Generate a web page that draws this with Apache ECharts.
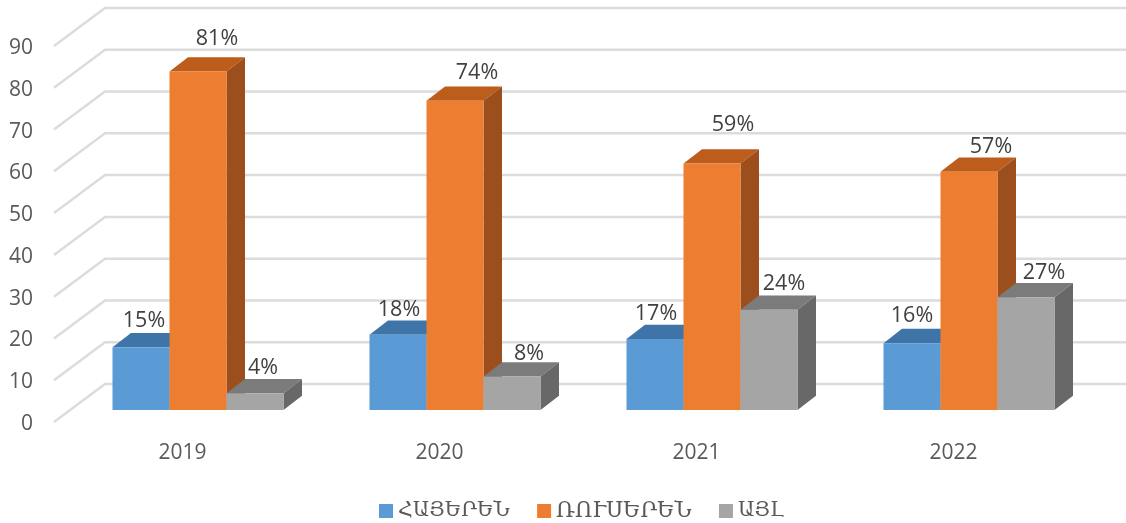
<!DOCTYPE html>
<html><head><meta charset="utf-8">
<style>html,body{margin:0;padding:0;background:#fff}#c{width:1126px;height:523px}</style>
<script src="https://cdn.jsdelivr.net/npm/echarts@6/dist/echarts.min.js"></script>
</head><body><div id="c"></div>
<script>
const categories = ['2019','2020','2021','2022'];
const seriesNames = ['ՀԱՅԵՐԵՆ','ՌՈՒՍԵՐԵՆ','ԱՅԼ'];
const armenianValues = [15,18,17,16];
const russianValues = [81,74,59,57];
const otherValues = [4,8,24,27];
const yTicks = [0,10,20,30,40,50,60,70,80,90];

const armenianNudge = [[3,-26],[1,-25],[1,-25],[0,-27]];
const russianNudge = [[19,-33],[22,-28],[21,-39],[22,-25]];
const otherNudge = [[8,-25],[17,-23],[15,-26],[18,-24]];

const font = '"Open Sans"';
const BACK = {dx:51, dy:-38};
const BAR_SHIFT = {dx:15.5, dy:-12};
const BAR_DEPTH = {dx:18.5, dy:-14.3};
const BAR_W = 57;

function barSeries(name, idx, values, nudge, c){
  return {
    name, type:'custom', clip:false, z:3,
    itemStyle:{color:c.front},
    data: values.map((v,i)=>[i,v]),
    encode:{x:0,y:1},
    renderItem(params, api){
      const i = api.value(0), v = api.value(1);
      const top = api.coord([i,v]), base = api.coord([i,0]);
      const x0 = top[0] + BAR_SHIFT.dx + (idx-1.5)*BAR_W, x1 = x0 + BAR_W;
      const yT = top[1] + BAR_SHIFT.dy, yB = base[1] + BAR_SHIFT.dy;
      const dx = BAR_DEPTH.dx, dy = BAR_DEPTH.dy;
      return {type:'group', children:[
        {type:'polygon', shape:{points:[[x0,yT],[x0+dx,yT+dy],[x1+dx,yT+dy],[x1,yT]]}, style:{fill:c.top}},
        {type:'polygon', shape:{points:[[x1,yT],[x1+dx,yT+dy],[x1+dx,yB+dy],[x1,yB]]}, style:{fill:c.side}},
        {type:'rect', shape:{x:x0,y:yT,width:BAR_W,height:yB-yT}, style:{fill:c.front}},
        {type:'text', z2:100, style:{text:v+'%', x:(x0+x1)/2+nudge[i][0], y:yT+nudge[i][1],
          align:'center', verticalAlign:'middle', fill:'#404040', font:'21.5px '+font}}
      ]};
    }
  };
}

const legendFont = {color:'#595959',fontFamily:'"DejaVu Serif"'};
const chart = echarts.init(document.getElementById('c'), null, {renderer:'canvas'});
chart.setOption({
  animation:false,
  backgroundColor:'#fff',
  grid:{left:54,right:44,top:46,bottom:101},
  legend:{
    data:seriesNames,
    left:374, top:495, icon:'rect', itemWidth:14, itemHeight:14, itemGap:27.5,
    formatter:n=>n===seriesNames[1]?`{b|${n}}`:`{a|${n}}`,
    textStyle:{...legendFont,fontSize:20.4,rich:{
      a:{...legendFont,fontSize:20.4},
      b:{...legendFont,fontSize:21.5}
    }}
  },
  xAxis:{type:'category',data:categories,
    axisLine:{show:false},axisTick:{show:false},splitLine:{show:false},
    axisLabel:{color:'#595959',fontSize:21,fontFamily:font,margin:21}},
  yAxis:{type:'value',min:0,max:90,interval:10,
    axisLine:{show:false},axisTick:{show:false},splitLine:{show:false},
    axisLabel:{margin:21,formatter:'{t|{value}}',
      rich:{t:{color:'#595959',fontSize:21,fontFamily:font,padding:[4,0,0,0]}}}},
  series:[
    {name:'grid',type:'custom',clip:false,silent:true,z:1,
     data:yTicks.map(v=>[0,v]),encode:{x:0,y:1},
     renderItem(params,api){
       const p=api.coord([0,api.value(1)]);
       const cs=params.coordSys;
       const x=cs.x,y=p[1];
       return {type:'polyline',shape:{points:[[x,y],[x+BACK.dx,y+BACK.dy],[x+cs.width+BACK.dx,y+BACK.dy]]},
         style:{fill:null,stroke:'#dcdcdc',lineWidth:2.5}};
     }},
    barSeries(seriesNames[0],0,armenianValues,armenianNudge,{front:'#5B9BD5',top:'#3F74A8',side:'#3F74A8'}),
    barSeries(seriesNames[1],1,russianValues,russianNudge,{front:'#ED7D31',top:'#BC5D1B',side:'#9C4F1C'}),
    barSeries(seriesNames[2],2,otherValues,otherNudge,{front:'#A5A5A5',top:'#7B7B7B',side:'#686868'})
  ]
});
</script></body></html>
